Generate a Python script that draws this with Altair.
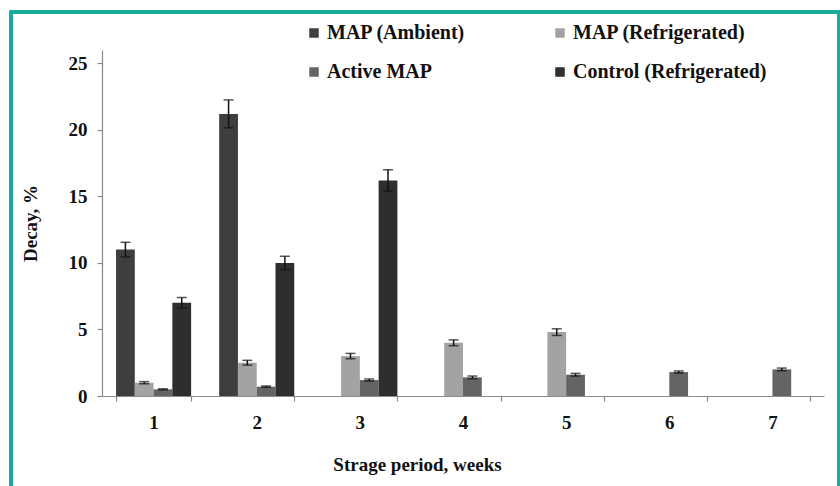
import altair as alt
import pandas as pd

weeks = ["1", "2", "3", "4", "5", "6", "7"]
series = ["MAP (Ambient)", "MAP (Refrigerated)", "Active MAP", "Control (Refrigerated)"]
colors = ["#3e3e3e", "#a3a3a3", "#646464", "#2e2e2e"]
legend_order = ["MAP (Ambient)", "Active MAP", "MAP (Refrigerated)", "Control (Refrigerated)"]
legend_colors = ["#3e3e3e", "#646464", "#a3a3a3", "#2e2e2e"]

ambient = [11.0, 21.2, None, None, None, None, None]
ambient_err = [0.55, 1.05, None, None, None, None, None]
refrig = [1.0, 2.5, 3.0, 4.0, 4.8, None, None]
refrig_err = [0.08, 0.18, 0.2, 0.22, 0.25, None, None]
active = [0.5, 0.7, 1.2, 1.4, 1.6, 1.8, 2.0]
active_err = [0.04, 0.05, 0.08, 0.1, 0.1, 0.08, 0.1]
control = [7.0, 10.0, 16.2, None, None, None, None]
control_err = [0.4, 0.5, 0.8, None, None, None, None]

rows = []
for name, vals, errs in zip(series, [ambient, refrig, active, control],
                            [ambient_err, refrig_err, active_err, control_err]):
    for w, v, e in zip(weeks, vals, errs):
        if v is None:
            continue
        rows.append({"week": w, "series": name, "value": v, "lo": v - e, "hi": v + e})
df = pd.DataFrame(rows)

FONT = "Liberation Serif"
FS = 19

x_enc = alt.X("week:N", sort=weeks,
              scale=alt.Scale(domain=weeks, paddingInner=0.272, paddingOuter=0.136),
              axis=alt.Axis(title="Strage period, weeks", labelAngle=0, tickBand="extent",
                            titleX=315, titlePadding=23, labelPadding=12, tickSize=5))
xo = alt.XOffset("series:N", sort=series, scale=alt.Scale(domain=series, paddingInner=0, paddingOuter=0))

bars = alt.Chart(df).mark_bar().encode(
    x=x_enc,
    xOffset=xo,
    y=alt.Y("value:Q", scale=alt.Scale(domain=[0, 25]),
            axis=alt.Axis(title="Decay, %", values=[0, 5, 10, 15, 20, 25], grid=False,
                          tickSize=5, labelPadding=10, titlePadding=28)),
    color=alt.Color("series:N", sort=legend_order,
                    scale=alt.Scale(domain=legend_order, range=legend_colors),
                    legend=alt.Legend(title=None, orient="none", legendX=202, legendY=-27,
                                      columns=2, columnPadding=84, rowPadding=19,
                                      symbolType="square", symbolSize=90, symbolStrokeWidth=0,
                                      labelFontSize=20, labelFont=FONT, labelFontWeight="bold",
                                      labelColor="#111", labelOffset=3, labelLimit=400)),
)

err = alt.Chart(df).mark_rule(color="#111", strokeWidth=1.5).encode(
    x=alt.X("week:N", sort=weeks), xOffset=xo,
    y="lo:Q", y2="hi:Q")
cap_hi = alt.Chart(df).mark_tick(color="#111", thickness=1.5, size=10).encode(
    x=alt.X("week:N", sort=weeks), xOffset=xo, y="hi:Q")
cap_lo = alt.Chart(df).mark_tick(color="#111", thickness=1.5, size=10).encode(
    x=alt.X("week:N", sort=weeks), xOffset=xo, y="lo:Q")

frame = alt.Chart(df).mark_rect(fill=None, stroke="#1aab9a", strokeWidth=2.5).encode(
    x=alt.value(-91), x2=alt.value(737), y=alt.value(-38), y2=alt.value(460))

chart = alt.layer(frame, bars, err, cap_hi, cap_lo).properties(
    width=722, height=346,
    background="white",
    autosize=alt.AutoSizeParams(type="none"),
    padding={"left": 102, "top": 50, "right": 16, "bottom": 90},
).configure_view(stroke=None).configure_axis(
    labelFont=FONT, titleFont=FONT, labelFontSize=FS, titleFontSize=FS,
    labelFontWeight="bold", titleFontWeight="bold", labelColor="#111", titleColor="#111",
    domainColor="#8a8a8a", tickColor="#8a8a8a", domainWidth=1.2, tickWidth=1.2,
)

chart.save("out.html", embed_options={"renderer": "svg", "actions": False})
